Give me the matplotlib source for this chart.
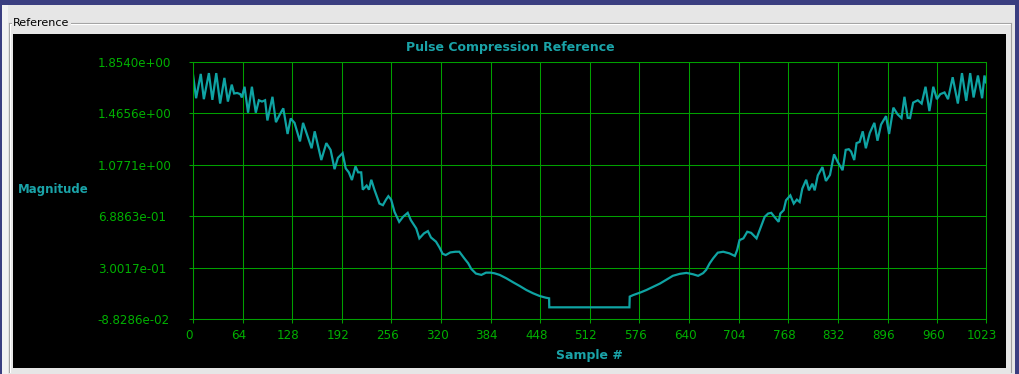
import matplotlib.pyplot as plt
from matplotlib.patches import Rectangle
from matplotlib.lines import Line2D
import matplotlib.transforms as mtransforms

# --- data (sample index, magnitude) ---
left_samples = [0, 4, 10, 14, 20.5, 25, 30, 35, 40.5, 45, 50, 53, 57, 61, 63, 66.5, 71, 76, 81, 85,
                89, 93, 96, 102.5, 107, 112, 116.5, 122, 126, 131, 138, 142, 153, 157, 165.5, 172,
                177.5, 182.6, 187, 193, 197, 201, 205, 209.6, 213, 217, 219, 224, 227, 230, 234,
                240.5, 245, 249, 252, 255.6, 260, 266, 271, 277, 281, 288, 292, 298, 303, 307,
                313.5, 318, 322, 326, 332, 338.5, 343.6, 350, 355, 359, 365, 372, 378, 384, 389,
                395.6, 404, 413, 421.5, 430, 438.7, 447, 455, 459.4, 459.6]
left_mag = [1.76, 1.58, 1.764, 1.573, 1.77, 1.568, 1.77, 1.54, 1.734, 1.555, 1.683, 1.616, 1.62,
            1.611, 1.586, 1.667, 1.471, 1.667, 1.471, 1.565, 1.555, 1.565, 1.412, 1.591, 1.399,
            1.458, 1.504, 1.31, 1.427, 1.394, 1.254, 1.394, 1.202, 1.33, 1.113, 1.241, 1.19,
            1.044, 1.13, 1.165, 1.05, 1.02, 0.962, 1.065, 1.02, 1.02, 0.889, 0.92, 0.889, 0.964,
            0.89, 0.784, 0.772, 0.814, 0.84, 0.814, 0.721, 0.646, 0.684, 0.714, 0.659, 0.596,
            0.521, 0.559, 0.576, 0.528, 0.496, 0.452, 0.405, 0.395, 0.415, 0.42, 0.42, 0.37,
            0.333, 0.29, 0.255, 0.245, 0.262, 0.262, 0.257, 0.245, 0.22, 0.189, 0.161, 0.131,
            0.106, 0.086, 0.073, 0.068, 0.0]

right_samples = [563, 563.4, 568, 576.7, 585, 594, 602.5, 611, 619, 628, 636.6, 645, 651.6, 658,
                 662, 666.6, 671, 677, 684, 692, 699, 702, 705, 710, 715, 720, 727, 731, 737.5,
                 742, 746, 750, 755.5, 757.7, 762, 765, 770.6, 775, 779, 782.6, 786, 791, 794.6,
                 799, 802, 806, 812, 816.5, 821.7, 827, 831.6, 838, 842, 846, 849, 853, 856, 860,
                 864, 868, 873, 879, 883, 887.6, 894, 898, 903.5, 909, 914, 917.8, 922, 925, 929,
                 935, 940, 945, 950, 955, 959.6, 964, 969.5, 974, 980, 986.7, 992, 997.5, 1002.6,
                 1007, 1012.6, 1018, 1021, 1023]
right_mag = [0.0, 0.081, 0.093, 0.111, 0.131, 0.156, 0.18, 0.21, 0.238, 0.253, 0.26, 0.25, 0.238,
             0.258, 0.283, 0.333, 0.37, 0.413, 0.42, 0.408, 0.388, 0.433, 0.508, 0.521, 0.571,
             0.563, 0.521, 0.583, 0.684, 0.709, 0.714, 0.684, 0.646, 0.709, 0.734, 0.809, 0.846,
             0.784, 0.814, 0.796, 0.897, 0.964, 0.884, 0.934, 0.884, 0.997, 1.06, 0.955, 1.0,
             1.156, 1.10, 1.036, 1.19, 1.195, 1.177, 1.113, 1.241, 1.25, 1.33, 1.202, 1.317,
             1.394, 1.259, 1.381, 1.445, 1.31, 1.509, 1.458, 1.43, 1.591, 1.432, 1.43, 1.547,
             1.565, 1.54, 1.667, 1.483, 1.667, 1.573, 1.611, 1.624, 1.573, 1.739, 1.54, 1.77,
             1.56, 1.77, 1.586, 1.752, 1.58, 1.752, 1.70]

xtick_vals = [0, 64, 128, 192, 256, 320, 384, 448, 512, 576, 640, 704, 768, 832, 896, 960, 1023]
ytick_labels = ['-8.8286e-02', '3.0017e-01', '6.8863e-01', '1.0771e+00', '1.4656e+00', '1.8540e+00']

samples = left_samples + right_samples
magnitude = left_mag + right_mag

# --- colours ---
teal = '#0fa3a3'
label_teal = '#1aa3a8'
grid_green = '#00a000'
text_green = '#00b000'

W, H = 1020, 374


def fx(x):
    return x / W


def fy(y):
    return 1 - y / H


fig = plt.figure(figsize=(W / 100, H / 100), dpi=100)
fig.patch.set_facecolor('#e6e6e6')


def rect(x0, y0, x1, y1, color):
    fig.add_artist(Rectangle((fx(x0), fy(y1)), fx(x1) - fx(x0), fy(y0) - fy(y1),
                             transform=fig.transFigure, facecolor=color,
                             edgecolor='none', zorder=0))


def hline(x0, x1, y, color):
    fig.add_artist(Line2D([fx(x0), fx(x1)], [fy(y), fy(y)], transform=fig.transFigure,
                          color=color, lw=0.8, zorder=1))


def vline(x, y0, y1, color):
    fig.add_artist(Line2D([fx(x), fx(x)], [fy(y0), fy(y1)], transform=fig.transFigure,
                          color=color, lw=0.8, zorder=1))


# window frame
rect(0, 0, W, 5, '#3a3e80')
rect(0, 0, 2.5, H, '#3a3e80')
rect(1015, 0, W, H, '#3a3e80')
rect(2.5, 5, 8, H, '#f2f2f2')

# group box
hline(9, 1011, 23, '#a0a0a0')
hline(10, 1010, 24, '#ffffff')
vline(9, 23, 372, '#a0a0a0')
vline(10, 24, 372, '#ffffff')
vline(1011, 23, 372, '#a0a0a0')
fig.text(fx(13), fy(22.5), 'Reference', fontsize=8, color='black', ha='left', va='center',
         bbox=dict(facecolor='#e6e6e6', edgecolor='none', pad=1))

# black panel
rect(13.5, 34, 1006, 368, 'black')

ax = fig.add_axes([fx(193), fy(319), fx(986) - fx(193), fy(62) - fy(319)])
ax.set_facecolor('black')
ax.plot(samples, magnitude, color=teal, lw=1.6, solid_joinstyle='miter')

ax.set_xlim(0, 1023)
ax.set_ylim(float(ytick_labels[0]), float(ytick_labels[-1]))
ax.set_xticks(xtick_vals)
ax.set_xticklabels([str(v) for v in xtick_vals])
ax.set_yticks([float(t) for t in ytick_labels])
ax.set_yticklabels(ytick_labels)

ax.grid(True, color=grid_green, lw=0.75)
ax.set_axisbelow(True)
for sp in ax.spines.values():
    sp.set_color(grid_green)
    sp.set_linewidth(0.75)

ax.tick_params(axis='both', colors=grid_green, labelcolor=text_green, length=3, width=0.75,
               labelsize=8.6)
ax.tick_params(axis='x', pad=4.0)
ax.tick_params(axis='y', pad=65.5)
for lbl in ax.get_yticklabels():
    lbl.set_horizontalalignment('left')
shift = mtransforms.ScaledTranslation(-4 / 100, 0, fig.dpi_scale_trans)
for lbl in ax.get_xticklabels():
    lbl.set_transform(lbl.get_transform() + shift)

fig.text(fx(510), fy(47), 'Pulse Compression Reference', fontsize=9, fontweight='bold',
         color=label_teal, ha='center', va='center')
fig.text(fx(589.5), fy(355), 'Sample #', fontsize=9, fontweight='bold',
         color=label_teal, ha='center', va='center')
fig.text(fx(18), fy(190), 'Magnitude', fontsize=8.5, fontweight='bold',
         color=label_teal, ha='left', va='center')

fig.savefig('out.png', dpi=100, facecolor=fig.get_facecolor())
